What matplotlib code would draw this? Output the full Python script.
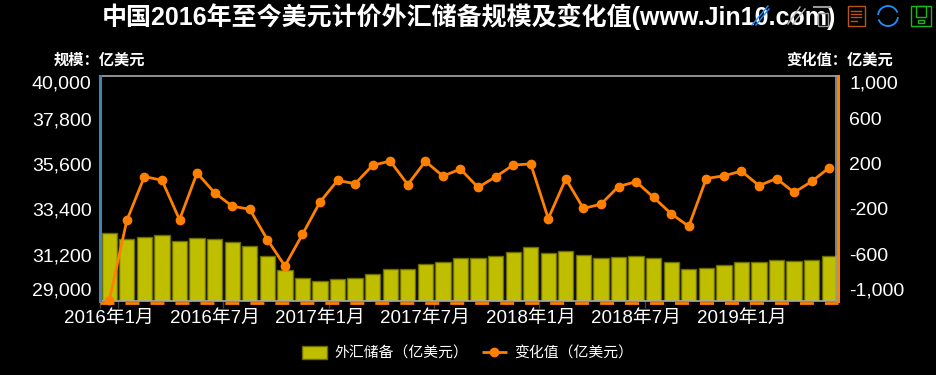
import numpy as np
import matplotlib
matplotlib.use("Agg")
import matplotlib.pyplot as plt
from matplotlib.lines import Line2D
from matplotlib.patches import Patch, Rectangle
from matplotlib.transforms import ScaledTranslation

plt.rcParams["font.family"] = ["Liberation Sans", "Noto Sans CJK SC"]

W, H = 937, 375

months = [f"{y}年{m}月" for y in (2016, 2017, 2018, 2019) for m in range(1, 13)][:42]
reserves = [
    32309, 32023, 32126, 32197, 31917, 32052, 32011, 31851, 31664, 31207, 30516, 30105,
    29982, 30051, 30091, 30295, 30536, 30568, 30807, 30915, 31085, 31092, 31193, 31399,
    31615, 31345, 31428, 31248, 31106, 31121, 31179, 31097, 30870, 30531, 30617, 30727,
    30879, 30902, 30988, 30950, 31010, 31192,
]
changes = [
    -995, -286, 103, 71, -280, 135, -41, -160, -187, -457, -691, -411,
    -123, 69, 40, 204, 241, 32, 239, 108, 170, 7, 101, 206,
    216, -270, 83, -180, -142, 15, 58, -82, -227, -339, 86, 110,
    152, 23, 86, -38, 60, 182,
]
left_ticks = [29000, 31200, 33400, 35600, 37800, 40000]
right_ticks = [-1000, -600, -200, 200, 600, 1000]

OLIVE = "#bfbf00"
ORANGE = "#ff7f00"

x = np.arange(len(months))

fig = plt.figure(figsize=(W / 100, H / 100), dpi=100, facecolor="black")
ax = fig.add_axes([100.5 / W, 1 - 300.7 / H, 737.5 / W, 225 / H], facecolor="black")
ax.bar(x, reserves, width=0.87, color=OLIVE, edgecolor="#6b6b00", linewidth=1, zorder=2)
ax.set_xlim(-0.5, len(months) - 0.5)
ax.set_ylim(left_ticks[0], left_ticks[-1])

ax2 = ax.twinx()
ax2.plot(x, changes, color=ORANGE, lw=2, marker="o", ms=6, clip_on=False, zorder=5)
ax2.set_ylim(right_ticks[0], right_ticks[-1])

for a in (ax, ax2):
    for s in a.spines.values():
        s.set_visible(False)
    a.set_yticks([])

# frame, axis lines
ax.axhline(left_ticks[-1], color="#aaaaaa", lw=1.2, zorder=3, clip_on=False)
ax.axhline(left_ticks[0], color="#aaaaaa", lw=1.2, zorder=3, clip_on=False)
ax.axvline(-0.5, color="#4682b4", lw=2.2, zorder=3, clip_on=False)
ax.axvline(len(months) - 0.5, color=ORANGE, lw=2.2, zorder=3, clip_on=False)
ax.axvline(len(months) - 0.62, color="#999999", lw=1.2, zorder=3, clip_on=False)

# dashed x axis of the line series, sits just under the bars
shift = ScaledTranslation(0, -2 / 100, fig.dpi_scale_trans)
ax2.plot([0, 1], [0, 0], transform=ax2.transAxes + shift, color=ORANGE, lw=2, clip_on=False,
         dashes=(14 / 2.78, 11 / 2.78), dash_capstyle="butt", zorder=1)

ax.set_xticks(np.r_[-0.5, np.arange(0, len(months), 6) + 0.5])
ax.set_xticklabels([])
ax.tick_params(axis="x", length=5, width=1, color="#444444", pad=0)

for i in np.arange(0, len(months), 6):
    ax.annotate(months[i], (i, 0), xycoords=("data", "axes fraction"), xytext=(0, -6.5),
                textcoords="offset points", ha="center", va="top", color="white", fontsize=13.5)

# labels are not quite on their ticks in the original, the end ones are pulled in
label_shift = [10, -1, 0, 0, 0, -8]
for lv, rv, dy in zip(left_ticks, right_ticks, label_shift):
    ax.annotate(f"{lv:,}", (0, lv), xycoords=("axes fraction", "data"), xytext=(-6.5, dy * 0.72),
                textcoords="offset points", ha="right", va="center", color="white", fontsize=14)
    ax.annotate(f"{rv:,}", (1, lv), xycoords=("axes fraction", "data"), xytext=(8, dy * 0.72),
                textcoords="offset points", ha="left", va="center", color="white", fontsize=14)

fig.text(102 / W, 1 - 17 / H, "中国2016年至今美元计价外汇储备规模及变化值(www.Jin10.com)",
         color="white", fontsize=18, fontweight="bold", va="center", ha="left", zorder=1)
fig.text(145 / W, 1 - 60 / H, "规模：亿美元", color="white", fontsize=11, fontweight="bold",
         ha="right", va="center")
fig.text(893 / W, 1 - 60 / H, "变化值：亿美元", color="white", fontsize=11, fontweight="bold",
         ha="right", va="center")

handles = [
    Patch(facecolor=OLIVE, edgecolor="#6b6b00", label="外汇储备（亿美元）"),
    Line2D([], [], color=ORANGE, lw=2, ls="--", marker="o", ms=6, label="变化值（亿美元）"),
]
fig.legend(handles=handles, loc="center", bbox_to_anchor=(467.5 / W, 1 - 353.5 / H), ncol=2,
           frameon=False, labelcolor="white", fontsize=10.7, handlelength=1.7, handleheight=1.0,
           columnspacing=0.93, handletextpad=0.45)


def icon_line(xs, ys, color, lw=1.0):
    fig.add_artist(Line2D(np.array(xs) / W, 1 - np.array(ys) / H, color=color, lw=lw, zorder=6))


def icon_box(x0, y0, w, h, color):
    fig.add_artist(Rectangle((x0 / W, 1 - (y0 + h) / H), w / W, h / H, transform=fig.transFigure,
                             fill=False, ec=color, lw=1, zorder=6))


# toolbox icons, the first three run under the end of the title
icon_line([752, 768], [25, 6], "#1e90ff")
icon_line([756, 769], [25, 9], "#1e90ff")
icon_line([788, 800], [24, 7], "#bbbbbb")
icon_line([793, 805], [24, 9], "#bbbbbb")
icon_line([814, 830], [7, 7], "#999999", 1.5)
icon_box(818, 13, 10, 13, "#999999")

icon_box(848, 6, 17, 20, "#b8541a")
for yy, xe in zip((11, 14, 17, 21), (861, 861, 861, 857)):
    icon_line([851, xe], [yy, yy], "#b8541a")

t = np.linspace(0.2, 2.7, 30)
for off in (0, np.pi):
    icon_line(888 + 10 * np.cos(t + off), 16 + 10 * np.sin(t + off), "#1e90ff", 1.3)

icon_box(911, 6, 20, 20, "#18b818")
icon_box(916, 6, 10, 11, "#18b818")
icon_box(918, 20, 6, 2.5, "#18b818")

fig.savefig("out.png", dpi=100, facecolor="black")
